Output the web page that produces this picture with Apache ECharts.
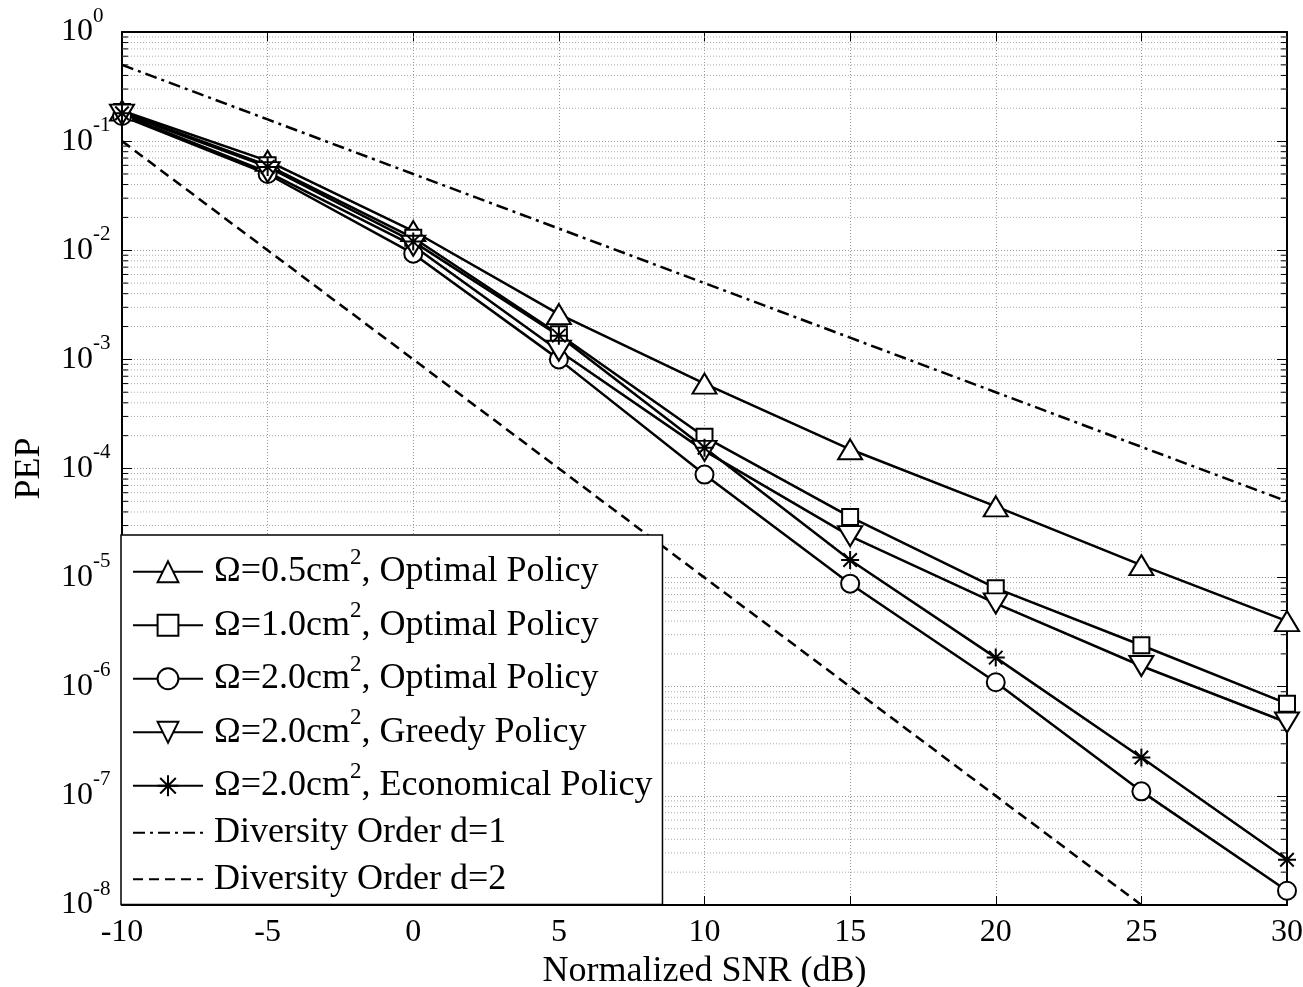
<!DOCTYPE html>
<html>
<head>
<meta charset="utf-8">
<script src="https://cdn.jsdelivr.net/npm/echarts@6/dist/echarts.min.js"></script>
<style>
html,body{margin:0;padding:0;background:#fff;overflow:hidden;}
#chart{width:1303px;height:987px;}
</style>
</head>
<body>
<div id="chart"></div>
<script>
// ---- data ----
const snr = [-10, -5, 0, 5, 10, 15, 20, 25, 30];
const omega05Optimal = [0.19, 0.066, 0.015, 0.0026, 6.0e-4, 1.5e-4, 4.5e-5, 1.3e-5, 4.0e-6];
const omega10Optimal = [0.185, 0.06, 0.013, 1.7e-3, 1.95e-4, 3.6e-5, 8.0e-6, 2.4e-6, 7.0e-7];
const omega20Optimal = [0.17, 0.05, 0.0093, 1.0e-3, 8.8e-5, 8.8e-6, 1.1e-6, 1.1e-7, 1.35e-8];
const omega20Greedy = [0.175, 0.052, 0.011, 1.2e-3, 1.45e-4, 2.4e-5, 5.8e-6, 1.55e-6, 4.7e-7];
const omega20Economical = [0.18, 0.058, 0.012, 1.65e-3, 1.55e-4, 1.45e-5, 1.85e-6, 2.25e-7, 2.6e-8];
const diversity1 = [0.5, 0.158, 0.05, 0.0158, 0.005, 1.58e-3, 5.0e-4, 1.58e-4, 5.0e-5];
const diversity2 = [0.1, 0.01, 1e-3, 1e-4, 1e-5, 1e-6, 1e-7, 1e-8];
const seriesNames = [
  'Ω=0.5cm2, Optimal Policy',
  'Ω=1.0cm2, Optimal Policy',
  'Ω=2.0cm2, Optimal Policy',
  'Ω=2.0cm2, Greedy Policy',
  'Ω=2.0cm2, Economical Policy',
  'Diversity Order d=1',
  'Diversity Order d=2'
];
const xMin = -10, xMax = 30, xStep = 5;
const yMin = 1e-8, yMax = 1;
const xTitle = 'Normalized SNR (dB)';
const yTitle = 'PEP';

// minor log grid values (2..9 x 10^k)
const minorValues = [];
for (let e = -8; e < 0; e++) {
  for (let m = 2; m <= 9; m++) minorValues.push(m * Math.pow(10, e));
}

const FONT = '"Liberation Serif", "Times New Roman", serif';
const CLEAR = 'rgba(0,0,0,0)';
const pair = (ys) => ys.map((y, i) => [snr[i], y]);
const starPath = 'path://M0,-10L0,10M-10,0L10,0M-7.5,-7.5L7.5,7.5M-7.5,7.5L7.5,-7.5';

const chart = echarts.init(document.getElementById('chart'), null, {renderer: 'canvas'});

function dataSeries(name, ys, symbol, size, extra) {
  return Object.assign({
    name: name,
    type: 'line',
    data: pair(ys),
    symbol: symbol,
    symbolSize: size,
    showAllSymbol: true,
    z: 5,
    lineStyle: {color: '#000', width: 2.5},
    itemStyle: {color: '#000', borderColor: '#000', borderWidth: 2.2},
    emphasis: {disabled: true},
    animation: false
  }, extra || {});
}

const legendData = seriesNames.map((n, i) => i < 5 ? {name: n} :
  {name: n, itemStyle: {color: CLEAR, borderColor: CLEAR, borderWidth: 0, opacity: 0}});

const option = {
  animation: false,
  backgroundColor: '#fff',
  grid: {left: 122, right: 16, top: 32, bottom: 82, containLabel: false, outerBoundsMode: 'none'},
  xAxis: [{
    type: 'value', min: xMin, max: xMax, interval: xStep,
    position: 'bottom',
    name: xTitle, nameLocation: 'middle', nameGap: 31,
    nameTextStyle: {fontFamily: FONT, fontSize: 36, color: '#000', verticalAlign: 'top'},
    axisLine: {show: true, onZero: false, lineStyle: {color: '#000', width: 2}},
    axisTick: {show: true, inside: true, length: 9, lineStyle: {color: '#000', width: 1}},
    axisLabel: {fontFamily: FONT, fontSize: 32, color: '#000', margin: 12},
    splitLine: {show: true, lineStyle: {color: '#999', width: 1, type: [1, 2]}}
  }, {
    type: 'value', min: xMin, max: xMax, interval: xStep,
    position: 'top',
    axisLine: {show: true, onZero: false, lineStyle: {color: '#000', width: 2}},
    axisTick: {show: true, inside: true, length: 9, lineStyle: {color: '#000', width: 1}},
    axisLabel: {show: false},
    splitLine: {show: false}
  }],
  yAxis: [{
    type: 'log', logBase: 10, min: yMin, max: yMax,
    position: 'left',
    name: yTitle, nameLocation: 'middle', nameGap: 74, nameRotate: 90,
    nameTextStyle: {fontFamily: FONT, fontSize: 36, color: '#000'},
    axisLine: {show: true, onZero: false, lineStyle: {color: '#000', width: 2}},
    axisTick: {show: true, inside: true, length: 10, lineStyle: {color: '#000', width: 1}},
    axisLabel: {
      fontFamily: FONT, fontSize: 32, color: '#000', margin: 61, align: 'left',
      formatter: function (v) {
        const e = Math.round(Math.log10(v));
        return '{b|10}{s|' + e + '}';
      },
      rich: {
        b: {fontFamily: FONT, fontSize: 32, lineHeight: 60, color: '#000',
            verticalAlign: 'top', padding: [14, 0, 0, 0]},
        s: {fontFamily: FONT, fontSize: 21, lineHeight: 60, color: '#000',
            verticalAlign: 'top', padding: [3.5, 0, 0, 0]}
      }
    },
    splitLine: {show: true, lineStyle: {color: '#999', width: 1, type: [1, 2]}},
    minorTick: {show: false}
  }, {
    type: 'log', logBase: 10, min: yMin, max: yMax,
    position: 'right',
    axisLine: {show: true, onZero: false, lineStyle: {color: '#000', width: 2}},
    axisTick: {show: true, inside: true, length: 10, lineStyle: {color: '#000', width: 1}},
    axisLabel: {show: false},
    splitLine: {show: false}
  }],
  legend: {
    data: legendData,
    orient: 'vertical',
    left: 121, top: 535,
    backgroundColor: '#fff',
    borderColor: '#000', borderWidth: 1.5, borderRadius: 0,
    padding: [7, 10, 2, 11],
    itemGap: 0,
    itemWidth: 70, itemHeight: 26,
    selectedMode: false,
    z: 20,
    formatter: function (name) {
      const k = name.indexOf('cm2');
      if (k < 0) return '{p|' + name + '}';
      return '{b|' + name.slice(0, k + 2) + '}{s|2}{b|' + name.slice(k + 3) + '}';
    },
    textStyle: {
      fontFamily: FONT, fontSize: 36, color: '#000', padding: [0, 0, 0, 6],
      rich: {
        p: {fontFamily: FONT, fontSize: 36, color: '#000', backgroundColor: CLEAR,
            padding: [5.25, 0, 5.25, 0]},
        b: {fontFamily: FONT, fontSize: 36, lineHeight: 59.5, color: '#000', backgroundColor: CLEAR,
            verticalAlign: 'top', padding: [11.75, 0, 5.75, 0]},
        s: {fontFamily: FONT, fontSize: 23, lineHeight: 59.5, color: '#000', backgroundColor: CLEAR,
            verticalAlign: 'top', padding: [4.25, 0, 0, 0]}
      }
    }
  },
  series: [
    {
      type: 'custom',
      name: 'minorGrid',
      silent: true,
      z: 1,
      data: minorValues.map(v => [xMin, v]),
      renderItem: function (params, api) {
        const v = api.value(1);
        const pL = api.coord([xMin, v]);
        const pR = api.coord([xMax, v]);
        return {
          type: 'group',
          children: [
            {type: 'line', shape: {x1: pL[0], y1: pL[1], x2: pR[0], y2: pR[1]},
             style: {stroke: '#aaa', lineWidth: 1, lineDash: [1, 2]}},
            {type: 'line', shape: {x1: pL[0], y1: pL[1], x2: pL[0] + 6, y2: pL[1]},
             style: {stroke: '#000', lineWidth: 1}},
            {type: 'line', shape: {x1: pR[0] - 6, y1: pR[1], x2: pR[0], y2: pR[1]},
             style: {stroke: '#000', lineWidth: 1}}
          ]
        };
      },
      animation: false
    },
    dataSeries(seriesNames[0], omega05Optimal, 'emptyTriangle', [24, 20]),
    dataSeries(seriesNames[1], omega10Optimal, 'emptyRect', 16),
    dataSeries(seriesNames[2], omega20Optimal, 'emptyCircle', 18),
    dataSeries(seriesNames[3], omega20Greedy, 'emptyTriangle', [24, 20], {symbolRotate: 180}),
    dataSeries(seriesNames[4], omega20Economical, starPath, 18,
      {itemStyle: {color: 'none', borderColor: '#000', borderWidth: 2}}),
    {
      name: seriesNames[5], type: 'line', data: pair(diversity1), symbol: 'none', z: 4,
      lineStyle: {color: '#000', width: 2.5, type: [12, 5, 3, 5]},
      itemStyle: {color: '#000'},
      emphasis: {disabled: true}, animation: false
    },
    {
      name: seriesNames[6], type: 'line', data: pair(diversity2), symbol: 'none', z: 4,
      lineStyle: {color: '#000', width: 2.5, type: [10, 6]},
      itemStyle: {color: '#000'},
      emphasis: {disabled: true}, animation: false
    }
  ]
};
chart.setOption(option);
</script>
</body>
</html>
